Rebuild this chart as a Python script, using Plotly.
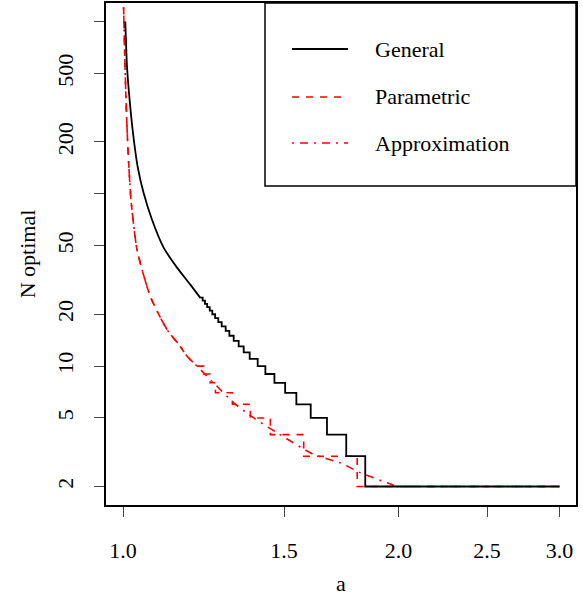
import plotly.graph_objects as go

# ---------------- data ----------------
# General: smooth upper part (a, N)
gen_smooth_a = [1.0058, 1.0101, 1.0168, 1.0255, 1.0375, 1.0533, 1.0758, 1.1077, 1.1457, 1.1847, 1.215]
gen_smooth_N = [1000, 548, 351, 225, 144, 101, 70.7, 48.7, 37.3, 29.7, 24.9]
# General: integer steps (a where each step starts, N of that step)
gen_step_a = [1.215, 1.222, 1.229, 1.236, 1.244, 1.252, 1.261, 1.271, 1.282, 1.2949, 1.307, 1.3213,
              1.338, 1.355, 1.3756, 1.4036, 1.431, 1.464, 1.504, 1.547, 1.604, 1.671, 1.754, 1.840, 3.0]
gen_step_N = [25, 24, 23, 22, 21, 20, 19, 18, 17, 16, 15, 14, 13, 12, 11, 10, 9, 8, 7, 6, 5, 4, 3, 2, 2]

# Parametric: smooth upper part and integer steps (a where each step starts)
par_smooth_a = [1.0015, 1.004, 1.0076, 1.0126, 1.0203, 1.0359, 1.071, 1.117, 1.155, 1.175, 1.205]
par_smooth_N = [1212, 686, 351, 180, 92.4, 47.4, 25.4, 16.3, 13.0, 11.4, 10.0]
par_step_a = [1.205, 1.225, 1.245, 1.262, 1.317, 1.378, 1.449, 1.576, 1.803, 3.0]
par_step_N = [10, 9, 8, 7, 6, 5, 4, 3, 2, 2]

# Approximation: continuous curve (above the floor of 2) and its flat tail
app_a = [1.0015, 1.004, 1.0076, 1.0126, 1.0203, 1.0359, 1.071, 1.117, 1.1553, 1.175, 1.205,
         1.2357, 1.2564, 1.3213, 1.3895, 1.474, 1.616, 1.729, 1.819, 1.945, 1.993]
app_N = [1212, 686, 351, 180, 92.4, 47.4, 25.4, 16.3, 13.03, 11.4, 9.98,
         8.73, 7.99, 6.12, 5.0, 4.1, 3.07, 2.74, 2.40, 2.10, 2.0]
app_tail_a = [1.993, 3.0]
app_tail_N = [2.0, 2.0]

x_ticks = [1.0, 1.5, 2.0, 2.5, 3.0]
x_tick_labels = ["1.0", "1.5", "2.0", "2.5", "3.0"]
y_ticks = [2, 5, 10, 20, 50, 100, 200, 500, 1000]
y_tick_labels = ["2", "5", "10", "20", "50", "", "200", "500", ""]

legend_names = ["General", "Parametric", "Approximation"]

# ---------------- figure ----------------
FONT = "Liberation Serif, Times New Roman, serif"
FS = 22
RED = "#ff0000"
DASH = "7px,7px"
DASHDOT = "2px,6px,8px,6px"

fig = go.Figure()
fig.add_trace(go.Scatter(x=par_smooth_a, y=par_smooth_N, mode="lines", line_shape="spline",
                         line=dict(color=RED, width=1.6, dash=DASH, smoothing=0.6), showlegend=False))
fig.add_trace(go.Scatter(x=par_step_a, y=par_step_N, mode="lines", line_shape="hv",
                         line=dict(color=RED, width=1.6, dash=DASH), showlegend=False))
fig.add_trace(go.Scatter(x=app_a, y=app_N, mode="lines", line_shape="spline",
                         line=dict(color=RED, width=1.6, dash=DASHDOT, smoothing=0.6), showlegend=False))
fig.add_trace(go.Scatter(x=app_tail_a, y=app_tail_N, mode="lines",
                         line=dict(color=RED, width=1.6, dash=DASHDOT), showlegend=False))
fig.add_trace(go.Scatter(x=gen_smooth_a, y=gen_smooth_N, mode="lines", line_shape="spline",
                         line=dict(color="black", width=1.8, smoothing=0.6), showlegend=False))
fig.add_trace(go.Scatter(x=gen_step_a, y=gen_step_N, mode="lines", line_shape="hv",
                         line=dict(color="black", width=1.8), showlegend=False))

# plot box geometry (pixels)
W, H = 583, 604
ML, MR, MT, MB = 106, 7, 3, 99
PW, PH = W - ML - MR, H - MT - MB

def px(xp):
    return (xp - ML) / PW

def py(yp):
    return (H - MB - yp) / PH

# legend box
fig.add_shape(type="rect", xref="paper", yref="paper", x0=px(265), x1=1.0, y0=py(186), y1=1.0,
              line=dict(color="black", width=1.5), fillcolor="white", layer="above")
leg_styles = [dict(color="black", width=1.8, dash="solid"),
              dict(color=RED, width=1.6, dash=DASH),
              dict(color=RED, width=1.6, dash=DASHDOT)]
leg_y = [49, 97, 143]
for name, st, yy in zip(legend_names, leg_styles, leg_y):
    fig.add_shape(type="line", xref="paper", yref="paper", x0=px(292), x1=px(348), y0=py(yy), y1=py(yy),
                  line=st, layer="above")
    fig.add_annotation(xref="paper", yref="paper", x=px(373), y=py(yy), text=name, showarrow=False,
                       xanchor="left", yanchor="middle", font=dict(family=FONT, size=FS, color="black"))

axis_common = dict(showgrid=False, zeroline=False, showline=True, mirror=True, linecolor="black",
                   linewidth=1.5, ticks="outside", ticklen=10, tickwidth=1, tickcolor="#444",
                   automargin=False, tickfont=dict(family=FONT, size=FS, color="black"))

fig.update_layout(
    width=W, height=H, margin=dict(l=ML, r=MR, t=MT, b=MB, autoexpand=False),
    paper_bgcolor="white", plot_bgcolor="white",
    font=dict(family=FONT, size=FS, color="black"),
    showlegend=False,
    xaxis=dict(type="log", range=[-0.01859, 0.4952], tickvals=x_ticks, ticktext=x_tick_labels,
               ticklabelstandoff=15, title=dict(text="a", standoff=13, font=dict(family=FONT, size=FS)),
               **axis_common),
    yaxis=dict(type="log", range=[0.1937, 3.1078], tickvals=y_ticks, ticktext=y_tick_labels,
               tickangle=-90, ticklabelstandoff=12,
               title=dict(text="N optimal", standoff=12, font=dict(family=FONT, size=FS)),
               **axis_common),
)

fig.write_html("out.html", config={"displayModeBar": False},
               post_script="document.body.style.margin='0px';document.body.style.padding='0px';")
